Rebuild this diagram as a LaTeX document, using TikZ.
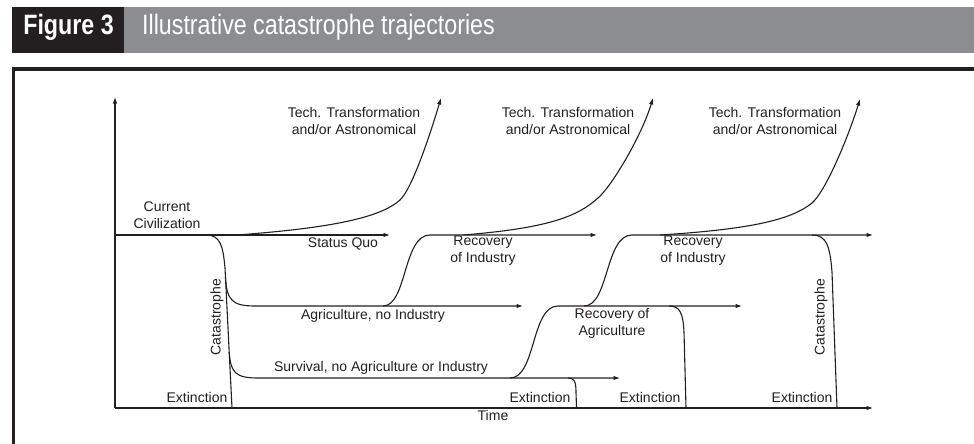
\documentclass[tikz,border=0pt]{standalone}
\usepackage{fontspec}
\setmainfont{Liberation Sans}
\newfontfamily\titlefont[FakeStretch=0.83]{Liberation Sans}
\usetikzlibrary{arrows.meta}
\definecolor{ink}{HTML}{231F20}
\definecolor{barg}{HTML}{8C8D90}
\begin{document}
\begin{tikzpicture}[x=1pt,y=-1pt,
  lab/.style={font=\fontsize{14}{17}\selectfont, text=ink, inner sep=0pt, align=center},
  crv/.style={draw=ink, line width=1.1pt},
  arr/.style={crv, -{Latex[length=6.5pt,width=4.5pt]}},
  ttl/.style={anchor=base, text=white, inner sep=0pt, font=\titlefont\fontsize{28}{30}\selectfont},
]
\useasboundingbox (0,0) rectangle (974,444);
% title bar
\fill[ink] (12,7) rectangle (124,53);
\fill[barg] (124,7) rectangle (974,53);
\node[ttl, font=\titlefont\bfseries\fontsize{28}{30}\selectfont] (fig) at (68.5,35) {Figure 3};
\node[ttl, anchor=base west] (title) at (142,35) {Illustrative catastrophe trajectories};
% frame
\draw[ink, line width=3.5pt] (13.5,444) -- (13.5,69) -- (974,69);
% axes
\draw[arr] (115,408) -- (115,97);
\draw[arr] (115,408) -- (873,408);
% current civilization / status quo
\draw[arr] (115,235) -- (390,235);
% catastrophe 1
\draw[crv] (206,235) .. controls (221,235) and (223,247) .. (225,268) -- (232,408);
\draw[arr] (225.5,278) .. controls (227,300) and (232,306) .. (255,306) -- (523,306);
\draw[arr] (229.2,352) .. controls (230.5,373) and (236,378) .. (258,378) -- (620,378);
% recoveries
\draw[arr] (383,306) .. controls (407,306) and (403,235) .. (430,235) -- (597,235);
\draw[arr] (510,378) .. controls (536,378) and (531,306) .. (558,306) -- (742,306);
\draw[arr] (584,306) .. controls (609,306) and (605,235) .. (632,235) -- (873,235);
% tech transformation curves
\draw[arr] (237,235) .. controls (330,228) and (380,218) .. (400,200) .. controls (412,189) and (430,135) .. (441,98);
\draw[arr] (463,235) .. controls (550,228) and (578,216) .. (598,198) .. controls (612,186) and (642,135) .. (653,98);
\draw[arr] (660,235) .. controls (755,229) and (792,219) .. (812,203) .. controls (826,191) and (849,135) .. (860,99);
% extinctions / catastrophe 2
\draw[crv] (812,235) .. controls (827,235) and (830,247) .. (832,272) -- (837,408);
\draw[crv] (568,378) .. controls (574,378) and (576,381) .. (576,392) -- (576.5,408);
\draw[crv] (669,306) .. controls (680,306) and (683,313) .. (684,332) -- (686,408);
% labels
\node[lab] (cc) at (167,215) {Current\\Civilization};
\node[lab] (sq) at (343,244) {Status Quo};
\node[lab] (tt1) at (354,121) {Tech. Transformation\\and/or Astronomical};
\node[lab] (tt2) at (568,121) {Tech. Transformation\\and/or Astronomical};
\node[lab] (tt3) at (775,121) {Tech. Transformation\\and/or Astronomical};
\node[lab] (ri1) at (483,251) {Recovery\\of Industry};
\node[lab] (ri2) at (693,251) {Recovery\\of Industry};
\node[lab] (ani) at (373,316) {Agriculture, no Industry};
\node[lab] (sna) at (381,368) {Survival, no Agriculture or Industry};
\node[lab] (ra) at (612,323) {Recovery of\\Agriculture};
\node[lab, rotate=90] (cat1) at (217,317) {Catastrophe};
\node[lab, rotate=90] (cat2) at (821,317) {Catastrophe};
\node[lab] (ex1) at (197,397) {Extinction};
\node[lab] (ex2) at (540,397) {Extinction};
\node[lab] (ex3) at (650,397) {Extinction};
\node[lab] (ex4) at (802,397) {Extinction};
\node[lab] (time) at (493,415) {Time};
\end{tikzpicture}
\end{document}
